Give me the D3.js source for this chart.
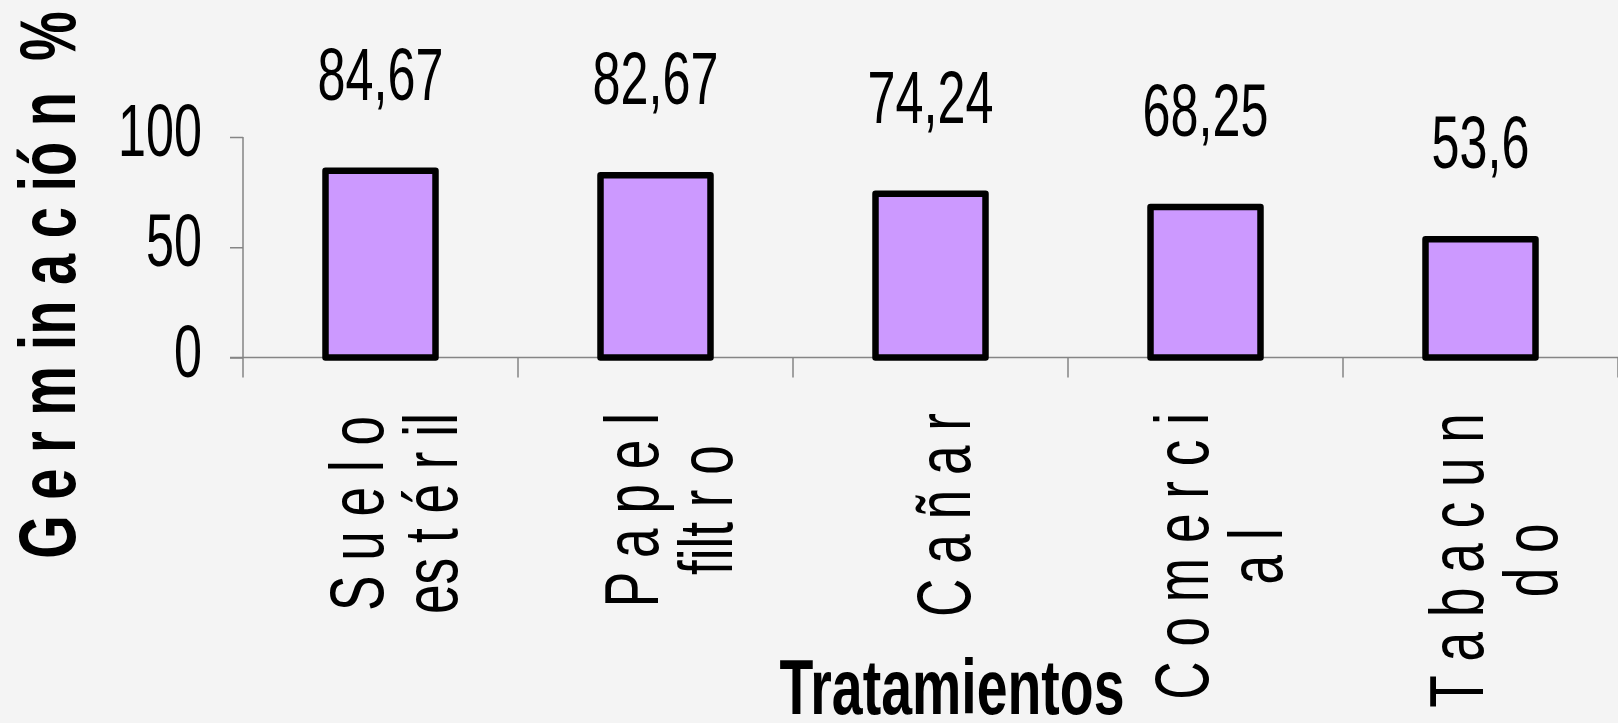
<!DOCTYPE html>
<html>
<head>
<meta charset="utf-8">
<script src="https://cdn.jsdelivr.net/npm/d3@7"></script>
<style>
  html, body { margin: 0; padding: 0; background: #f4f4f4; }
  svg { display: block; }
  text { font-family: "Liberation Sans", Arial, sans-serif; fill: #000; white-space: pre; }
</style>
</head>
<body>
<svg id="chart" width="1618" height="723"></svg>
<script>
// Germination percentage by treatment
const categories = ["Suelo estéril", "Papel filtro", "Cañar", "Comercial", "Tabacundo"];
const categoryLines = [
  ["S u e l o", "es t é r il"],
  ["P a p e l", "filt r o"],
  ["C a ñ a r"],
  ["C o m e r c i", "a l"],
  ["T a b a c u n", "d o"]
];
const germinacion = [84.67, 82.67, 74.24, 68.25, 53.6];
const yTicks = [0, 50, 100];
const yTitle = "G e r m in a c ió n  %";
const xTitle = "Tratamientos";

const W = 1618, H = 723;
const squeeze = 0.70;           // all text is drawn horizontally condensed
const svg = d3.select("#chart");

svg.append("rect").attr("width", W).attr("height", H).attr("fill", "#f4f4f4");

const x = d3.scaleBand()
  .domain(categories)
  .range([243, 1618])
  .paddingInner(0.6)
  .paddingOuter(0.3);

const y = d3.scaleLinear().domain([0, 100]).range([357.5, 137]);

const comma = d3.formatLocale({ decimal: ",", thousands: ".", grouping: [3], currency: ["", ""] }).format("~f");

const axisColor = "#858585";

// category axis: baseline and separators between treatments
svg.append("line")
  .attr("x1", 230).attr("x2", W)
  .attr("y1", y(0)).attr("y2", y(0))
  .attr("stroke", axisColor).attr("stroke-width", 1.5);

const x0 = x.range()[0];
const boundaries = d3.range(categories.length + 1).map(i => x0 + i * x.step());
svg.append("g").selectAll("line").data(boundaries.slice(1)).join("line")
  .attr("x1", d => d).attr("x2", d => d)
  .attr("y1", y(0)).attr("y2", y(0) + 20)
  .attr("stroke", axisColor).attr("stroke-width", 1.5);

// value axis
svg.append("line")
  .attr("x1", x0).attr("x2", x0)
  .attr("y1", y(100)).attr("y2", y(0) + 20)
  .attr("stroke", axisColor).attr("stroke-width", 1.5);

const yAxis = svg.append("g")
  .attr("transform", `translate(${x0},0)`)
  .call(d3.axisLeft(y).tickValues(yTicks).tickSize(13).tickSizeOuter(0).tickFormat(""));
yAxis.select(".domain").remove();
yAxis.selectAll(".tick line").attr("stroke", axisColor).attr("stroke-width", 1.5);

svg.append("g").selectAll("text").data(yTicks).join("text")
  .attr("transform", d => `translate(202,${y(d) + 19}) scale(0.68,1)`)
  .attr("text-anchor", "end")
  .attr("font-size", 74)
  .text(d => d);

// bars
svg.append("g").selectAll("rect").data(categories).join("rect")
  .attr("x", d => x(d))
  .attr("y", (d, i) => y(germinacion[i]))
  .attr("width", x.bandwidth())
  .attr("height", (d, i) => y(0) - y(germinacion[i]))
  .attr("fill", "#cc99ff")
  .attr("stroke", "#000")
  .attr("stroke-width", 6.5)
  .attr("stroke-linejoin", "round");

// value labels above bars
svg.append("g").selectAll("text").data(categories).join("text")
  .attr("transform", (d, i) => `translate(${x(d) + x.bandwidth() / 2},${y(germinacion[i]) - 71}) scale(0.68,1)`)
  .attr("text-anchor", "middle")
  .attr("font-size", 74)
  .text((d, i) => comma(germinacion[i]));

// rotated category labels, block anchored near the axis
const catFont = 76, lineGap = 74, blockTop = 413;
categories.forEach((c, i) => {
  const lines = categoryLines[i];
  const cx = x(c) + x.bandwidth() / 2;
  const g = svg.append("g");
  const nodes = lines.map(t => g.append("text").attr("font-size", catFont).attr("text-anchor", "middle").text(t));
  const maxLen = d3.max(nodes, n => n.node().getComputedTextLength()) * squeeze;
  const cy = blockTop + maxLen / 2;
  nodes.forEach((n, j) => {
    const bx = cx + 39 + (j - (lines.length - 1) / 2) * lineGap;
    n.attr("transform", `translate(${bx},${cy}) rotate(-90) scale(${squeeze},1)`);
  });
});

// axis titles
svg.append("text")
  .attr("transform", `translate(75,285) rotate(-90) scale(0.7,1)`)
  .attr("text-anchor", "middle")
  .attr("font-size", 80)
  .attr("font-weight", "bold")
  .text(yTitle);

svg.append("text")
  .attr("transform", `translate(952,714) scale(0.72,1)`)
  .attr("text-anchor", "middle")
  .attr("font-size", 77)
  .attr("font-weight", "bold")
  .text(xTitle);
</script>
</body>
</html>
